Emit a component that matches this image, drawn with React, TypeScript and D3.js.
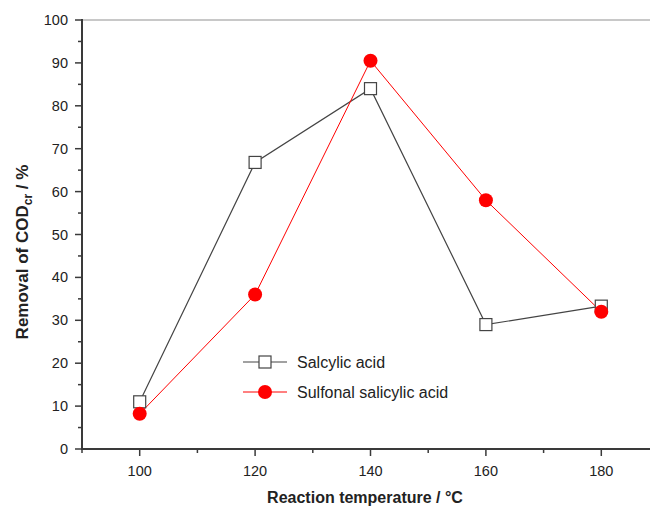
import React from 'react';
import * as d3 from 'd3';

// Reaction temperature (°C)
const temperatures = [100, 120, 140, 160, 180];
// Removal of COD_cr (%)
const salicylic = [11, 66.8, 84, 29, 33.3];
const sulfonal = [8.2, 36, 90.5, 58, 32];

const xTicks = [100, 120, 140, 160, 180];
const yTicks = [0, 10, 20, 30, 40, 50, 60, 70, 80, 90, 100];

const seriesNames = ['Salcylic acid', 'Sulfonal salicylic acid'];

const W = 650;
const H = 508;
const margin = { left: 82, top: 20, bottom: 59 };
const FONT = '"Liberation Sans", Arial, sans-serif';

const App = () => {
  const x = d3.scaleLinear().domain([90, 190]).range([margin.left, margin.left + 577]);
  const y = d3.scaleLinear().domain([0, 100]).range([H - margin.bottom, margin.top]);

  const line = d3
    .line<number>()
    .x((_, i) => x(temperatures[i]))
    .y((d) => y(d));

  const xMinor = d3.range(90, 191, 10).filter((t) => !xTicks.includes(t));
  const yMinor = d3.range(5, 100, 10);

  const axisColor = '#3a3a3a';
  const grayLine = '#444';
  const red = '#ff0000';

  const y0 = y(0);

  return (
    <svg width={W} height={H} style={{ position: 'absolute', left: 0, top: 0, background: '#fff' }}>
      {/* top frame line */}
      <line x1={margin.left} x2={W} y1={y(100)} y2={y(100)} stroke="#c8c8c8" strokeWidth={2} />

      {/* y axis */}
      <line x1={margin.left} x2={margin.left} y1={y(0)} y2={y(100) - 1} stroke={axisColor} strokeWidth={2} />
      {yTicks.map((t) => (
        <g key={'y' + t}>
          <line x1={margin.left - 7} x2={margin.left} y1={y(t)} y2={y(t)} stroke={axisColor} strokeWidth={1.5} />
          <text x={margin.left - 14} y={y(t)} dy="0.35em" textAnchor="end" fontFamily={FONT} fontSize={14.5} fill="#222">
            {t}
          </text>
        </g>
      ))}
      {yMinor.map((t) => (
        <line key={'ym' + t} x1={margin.left - 4} x2={margin.left} y1={y(t)} y2={y(t)} stroke={axisColor} strokeWidth={1.5} />
      ))}

      {/* x axis */}
      <line x1={margin.left - 1} x2={W} y1={y0} y2={y0} stroke={axisColor} strokeWidth={2} />
      {xTicks.map((t) => (
        <g key={'x' + t}>
          <line x1={x(t)} x2={x(t)} y1={y0} y2={y0 + 7} stroke={axisColor} strokeWidth={1.5} />
          <text x={x(t)} y={y0 + 22} dy="0.35em" textAnchor="middle" fontFamily={FONT} fontSize={14.5} fill="#222">
            {t}
          </text>
        </g>
      ))}
      {xMinor.map((t) => (
        <line key={'xm' + t} x1={x(t)} x2={x(t)} y1={y0} y2={y0 + 4} stroke={axisColor} strokeWidth={1.5} />
      ))}

      {/* axis titles */}
      <text x={365} y={497} textAnchor="middle" dy="0.35em" fontFamily={FONT} fontSize={16} fontWeight="bold" fill="#222">
        Reaction temperature / °C
      </text>
      <text
        transform={`translate(22, 252) rotate(-90)`}
        textAnchor="middle"
        dy="0.35em"
        fontFamily={FONT}
        fontSize={17}
        fontWeight="bold"
        fill="#222"
      >
        Removal of COD<tspan fontSize={12} dy="4">cr</tspan>
        <tspan dy="-4"> / %</tspan>
      </text>

      {/* series lines */}
      <path d={line(salicylic) || ''} fill="none" stroke={grayLine} strokeWidth={1.2} />
      <path d={line(sulfonal) || ''} fill="none" stroke={red} strokeWidth={1} />

      {/* markers */}
      {salicylic.map((v, i) => (
        <rect
          key={'s' + i}
          x={x(temperatures[i]) - 6}
          y={y(v) - 6}
          width={12}
          height={12}
          fill="#fff"
          stroke={grayLine}
          strokeWidth={1.2}
        />
      ))}
      {sulfonal.map((v, i) => (
        <circle key={'c' + i} cx={x(temperatures[i])} cy={y(v)} r={7} fill={red} />
      ))}

      {/* legend */}
      <g fontFamily={FONT} fontSize={16} fill="#222">
        <line x1={243} x2={287} y1={362} y2={362} stroke={grayLine} strokeWidth={1.2} />
        <rect x={259} y={356} width={12} height={12} fill="#fff" stroke={grayLine} strokeWidth={1.2} />
        <text x={297} y={362} dy="0.35em">{seriesNames[0]}</text>
        <line x1={243} x2={287} y1={392} y2={392} stroke={red} strokeWidth={1} />
        <circle cx={265} cy={392} r={7} fill={red} />
        <text x={297} y={392} dy="0.35em">{seriesNames[1]}</text>
      </g>
    </svg>
  );
};

export default App;
